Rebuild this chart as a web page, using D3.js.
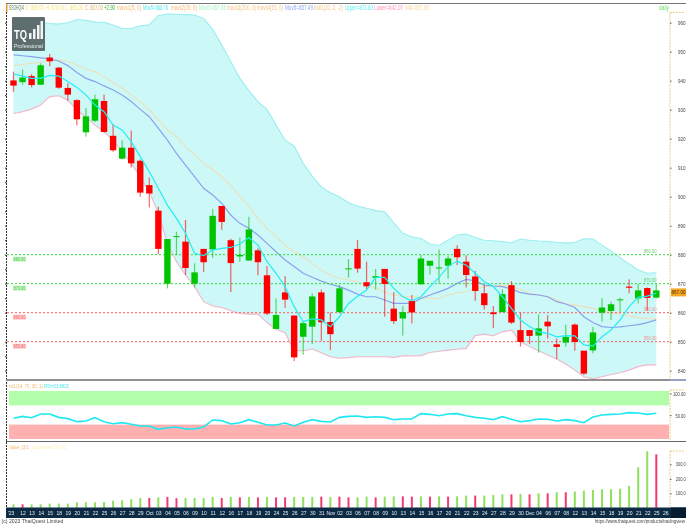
<!DOCTYPE html>
<html>
<head>
<meta charset="utf-8">
<script src="https://cdn.jsdelivr.net/npm/d3@7"></script>
<style>
  html, body { margin: 0; padding: 0; background: #fff; overflow: hidden; }
  svg { display: block; filter: blur(0.45px); font-family: "Liberation Sans", sans-serif; }
</style>
</head>
<body>
<div id="chart"></div>
<script>
// values, one entry per trading day
const dateLabels = ["'23","12","13","14","15","18","19","20","21","22","25","26","27","28","29","Oct","03","04","05","06","09","10","11","12","16","17","18","19","20","24","25","26","27","30","31","Nov","02","03","06","07","08","09","10","13","14","15","16","17","20","21","22","23","24","27","28","29","30","Dec","04","06","07","08","12","13","14","15","18","19","20","21","22","25","26"];

const opens = [940.1,939.5,941.6,938.6,948,944.5,937.5,933.3,922.2,926.2,933,921,913.1,916.9,912.4,904,895.2,870,886.1,884.5,870,882,881.8,896.8,885,879.4,878,881.5,872.9,854.4,867,859,851.7,855.2,867,856.8,860.2,875.1,882,870.5,872,875.1,861.4,858,864.1,869.8,876.2,875.3,876.2,882,877.6,872.5,866.7,860.1,860.2,869.5,854,854,852.1,856.9,849.1,849.7,855.9,846.9,847,860,860.6,864.3,869,864.9,868.5,865.2];
const closes = [938.3,941.1,938.5,945.3,946.7,937.6,935.2,926.7,927.7,933.6,922.3,916,916.9,911.5,901.4,901.1,882,885.4,886.4,875.4,873.9,877.4,893.4,891.3,877.1,879.9,888.7,877.4,859.7,859.2,864.5,844.6,856.4,865.6,856.7,852.6,868.4,875.3,875.2,869.1,872.6,869.9,857.1,860.2,860.1,878.7,877.9,875.6,878.7,879.1,873,867.5,862.6,859.5,866.4,856.6,849.9,852,854.6,855.3,848.2,851.7,849.9,839,853.2,861.8,862.9,864.6,868.6,867.7,865.1,867.7];
const highs = [943.1,943.9,942.3,946,949.2,944.8,939.1,933.6,930.6,935.2,935.2,925,919.5,922.8,912.8,906.6,896.6,885.4,887.9,892,877,882,895.7,896.8,885.5,885.9,893.1,882.2,876.1,864.9,872.6,859.2,857.2,866.7,868,860,869.5,878.5,885.1,877.6,875.1,875.1,867.1,862.3,866.1,879.9,877.9,881.8,879.7,883.3,879.8,874.4,869.5,862.3,868,870.9,860,854,859.5,859.1,851.1,855.9,856.3,846.9,855.1,865,863.8,865.2,871.5,869.9,868.7,869.9];
const lows = [936.2,938.6,937.7,938.6,945,937.2,933.1,924.6,920.7,925.7,922.1,915.5,912.9,910.1,900,896.3,880.2,868.4,879.9,873,868.7,874.1,878.9,888.6,867.1,877.6,877.8,872.9,859.2,854.3,861.7,843.3,845.5,849.2,850.3,847.1,859.8,872.1,873.8,868,868,858.6,856.1,852.1,856.3,869.7,873.1,870.1,871.7,876.4,868.7,864.1,861.1,854.7,860.2,856.1,848.3,849.2,846.2,851.1,844,848.3,846.9,838.5,846,856.9,857.5,860.3,866.7,863.2,860.7,864.9];

const ma5 = [942.3,941.6,940.8,940.8,941.8,941.6,939.7,937.7,935.1,931.6,929.3,924.7,923,919,913.8,908.6,902.9,897.1,892.5,887.4,880.5,879.7,881.6,882.2,882.5,883.7,885.9,883.3,877.6,873.6,869,862.1,856.9,857.9,857.5,855.2,858.6,863.2,865.7,867.8,872.2,872.2,868.4,865.5,864.1,865.5,869,872.2,875.9,877.8,876.4,873.6,870.7,869,865.5,861.5,857.5,855.2,853.4,852.9,851.7,852.1,852,848.9,848.5,851.7,854,857.5,862.1,865.3,865.7,866.7];
const ma15 = [948.9,948.6,948.3,947.9,947.5,946.8,945.2,942.8,940.8,939.7,938.2,936.8,935.1,932.8,930.1,927.6,923.6,919.5,914.9,910.9,906.9,902.9,900.6,897.7,893.7,890.8,889.1,886.8,883.9,881,878.2,875.9,873.6,872.2,870.9,869.8,869,867.8,866.4,865.5,865.5,864.4,863.2,863.2,863.2,864.9,866.1,867.2,868.4,870.1,871.5,871,869.5,869.2,869,868.2,866.9,866.4,866.1,865.5,863.8,863,861.8,858.6,856.6,855.2,854.9,855.1,855.5,855.9,856.6,857.5];
const ma20 = [945.2,945.6,946,946.3,946.9,947.1,946.6,945.4,944,943.1,941.4,939.3,937.4,935.1,932.8,929.9,926.4,923,920.7,917.2,914.4,911.5,909.2,906.9,904,900,896.6,892.5,889.1,886.2,883.3,881,879.3,877,874.7,873,871.8,871.3,870.7,869.5,868.4,867.2,866.1,865.7,865.5,865.3,864.9,864.9,866.1,866.9,867.2,868.2,869,869.2,869.5,869,868,866.7,866.1,865.7,864.4,863.2,862.6,862.1,861.5,860.7,860.1,859.5,858.9,858.4,858,857.8];
const bollUpper = [960.5,960.3,960.2,960.1,959.7,959.5,960,961.1,960.8,960.2,960.1,959.2,958,958,958.9,959.3,962.5,963,962.9,962.8,962.6,961.5,957.7,952.3,946.6,940.8,936.6,932.8,930.1,924.7,919.5,917.5,911.5,907.1,903.4,901.4,900,897.9,896.8,896,895.2,894.8,891,887.4,886.2,885.6,883.7,883.2,885,886.8,887.1,885.9,885,884.8,884.5,884.1,885.4,885,884.7,884.5,884.3,884,884.3,885.5,885.4,883.3,881.3,879,876.8,874.7,873.6,873.8];
const bollLower = [928.7,929.3,930.2,931.6,934.5,934.8,933.3,929.9,927.4,924.7,922.4,919.5,915.5,911.5,906.9,901.7,894.3,883.9,877.6,873,869,863.8,862.3,861.8,860.7,859.7,859.5,859.5,856.6,854.3,853.1,846.9,846.9,847.5,846.2,844.8,844.3,844.5,844.8,844.8,844.8,844.8,844.6,845.1,845.1,845.2,846.3,846.7,847.1,847.4,847.7,852.1,852.6,852,853.4,854,850,848.3,846.9,845.4,844,842.3,840.2,837.9,837.2,837.9,838.7,839.3,840.2,841.4,842,842];

const rsi = [43.1,47.2,44.4,52.1,52.1,45.1,42.4,36.1,37.5,44.4,36.1,31.9,34,30.6,27.1,27.1,20.1,23.6,25,20.8,20.8,25,39.6,38.2,31.3,34,40.3,34.7,29.2,29.2,33.3,27.1,34.7,40.3,36.8,35.4,45.1,47.2,47.9,45.1,46.5,45.1,40.3,41.7,41.7,52.8,51.4,48.6,52.1,52.8,48.6,45.1,43.1,40.3,46.5,41,36.1,38.2,41.7,41,37.5,40.3,38.2,34,45.8,50,51.4,52.1,54.9,54.2,51.4,53.5];
const volumes = [24,24,24,24,29,29,29,38,38,38,40,49,52,59,68,68,72,75,66,68,68,68,75,68,75,72,75,72,75,72,72,75,75,75,77,75,77,72,72,77,72,77,79,79,77,79,77,79,77,79,84,84,84,89,93,93,95,93,100,100,107,107,112,118,123,128,128,132,151,279,390,369];
const volumeDownDays = [1,15,17,18,23,25,27,29,30,34,36,37,40,43,44,46,48,51,55,57,59,61,71];

const priceTicks = [960,950,940,930,920,910,900,890,880,870,860,850,840];
const rsiTicks = [100,50];
const volumeTicks = [300,200,100];
const levels = [880,870,860,850];
const lastPrice = 867;

const legendParts = [
    ['SSOHQ/4', '#5d7a5d', 9, 15], ['O: 865.00', '#f4e27a', 25, 19], ['H: 870.00', '#f4e27a', 46, 18],
    ['L: 865.00', '#f4e27a', 65, 18], ['C: 867.00', '#e0b070', 85, 18], ['+2.90', '#2fae2f', 104, 11],
    ['movs1(5, 0)', '#f5b66a', 117, 24], ['Mov5=866.76', '#4fe6f0', 143, 25], ['movs2(20, 0)', '#f5b66a', 171, 26],
    ['Mov5=857.85', '#a8f0c8', 199, 27], ['movs3(200, 0)', '#f5c080', 227, 29], ['movs4(15, 0)', '#f5c080', 257, 26],
    ['Mov5=857.49', '#8fa6f0', 285, 28], ['boll1(20, 2, -2)', '#f5c080', 314, 29], ['Upper=873.60', '#60eef0', 345, 28],
    ['Lower=842.07', '#ff90b0', 374, 29], ['Mid=857.85', '#f8d8a0', 405, 24], ['daily', '#66dd66', 659, 10]
];

const width = 686;
const height = 524;
const plotRight = 670;

const svg = d3.select('#chart').append('svg').attr('width', width).attr('height', height).attr('viewBox', [0, 0, width, height]);

const x = d3.scaleLinear().domain([0, 71]).range([13.5, 656.3]);
const y = d3.scaleLinear().domain([840, 960]).range([370.7, 22.7]);
const yRsi = d3.scaleLinear().domain([0, 100]).range([439, 391]);
const yVol = d3.scaleLinear().domain([0, 300]).range([507.8, 464.3]);

// the reference text is very condensed, so squeeze each label to its measured width
const label = (g, text, px, py, size, color, len) => {
    const t = g.append('text').attr('font-size', size).attr('fill', color).text(text);
    const natural = t.node().getComputedTextLength();
    t.attr('transform', `translate(${px},${py}) scale(${len ? len / natural : 1},1)`);
    return t;
};

// bollinger band
const days = d3.range(opens.length);
svg.append('path')
    .attr('fill', '#ccf8f8')
    .attr('d', d3.area().x((d) => x(d)).y0((d) => y(bollLower[d])).y1((d) => y(bollUpper[d]))(days));

const drawLine = (values, yScale, color, w) =>
    svg.append('path')
        .attr('fill', 'none')
        .attr('stroke', color)
        .attr('stroke-width', w)
        .attr('d', d3.line().x((_, i) => x(i)).y((d) => yScale(d))(values));

drawLine(bollUpper, y, '#9ceef0', 1.1);
drawLine(bollLower, y, '#f2b6ca', 1.1);
drawLine(ma20, y, '#efdfb8', 1.1);
drawLine(ma15, y, '#8aa2ee', 1.2);

// support / resistance levels
levels.forEach((level) => {
    const color = level >= 870 ? '#2fdc2f' : '#ff5c5c';
    svg.append('line')
        .attr('x1', 7).attr('x2', plotRight).attr('y1', y(level)).attr('y2', y(level))
        .attr('stroke', color).attr('stroke-dasharray', '2 2');
    const boxFill = level >= 870 ? '#c4f5c0' : '#ffc8c8';
    svg.append('rect').attr('x', 13).attr('y', y(level) + 2).attr('width', 13).attr('height', 5).attr('fill', boxFill);
    label(svg, `${level}.00`, 13.5, y(level) + 6.5, 5.5, level >= 870 ? '#55c855' : '#ee7070', 12);
    label(svg, `${level}.00`, 644, y(level) - 2, 5.5, level >= 870 ? '#66cc66' : '#ee9090', 12.5);
});

// candles
const candles = svg.append('g').selectAll('g').data(days).join('g')
    .attr('fill', (d) => (closes[d] >= opens[d] ? '#00c400' : '#ff0000'))
    .attr('stroke', 'none');
candles.append('rect')
    .attr('x', (d) => x(d) - 0.6).attr('width', 1.2)
    .attr('y', (d) => y(highs[d]))
    .attr('height', (d) => y(lows[d]) - y(highs[d]))
    .attr('opacity', 0.6);
candles.append('rect')
    .attr('x', (d) => x(d) - 3.2).attr('width', 6.4)
    .attr('y', (d) => y(Math.max(opens[d], closes[d])))
    .attr('height', (d) => Math.max(1, Math.abs(y(opens[d]) - y(closes[d]))));

drawLine(ma5, y, '#22eef2', 1.2);

// left price ruler and right axes
const leftAxis = svg.append('g').attr('transform', 'translate(6.5,0)')
    .call(d3.axisLeft(y).tickValues(d3.range(840, 965, 5)).tickSize(1.5).tickFormat(''));
leftAxis.select('.domain').attr('d', 'M0,12V379').attr('stroke', '#333').attr('stroke-dasharray', '2 1');
leftAxis.selectAll('line').attr('stroke', '#333');

const styleRightAxis = (g, top, bottom) => {
    g.select('.domain').attr('d', `M0,${top}H15M0,${top}V${bottom}`).attr('stroke', '#e6cf86').attr('stroke-dasharray', '2 1');
    g.selectAll('line').attr('stroke', '#555');
};

svg.append('g').attr('transform', `translate(${plotRight},0)`)
    .call(d3.axisRight(y).tickValues(priceTicks).tickSize(1.5).tickFormat(''))
    .call(styleRightAxis, 12.5, 379);
priceTicks.forEach((d) => label(svg, `${d}`, 678, y(d) + 2, 6, '#444', 7.5));

// last price tag
svg.append('rect').attr('x', 671).attr('y', y(lastPrice) - 4).attr('width', 15).attr('height', 8).attr('fill', '#f5a623');
label(svg, lastPrice.toFixed(2), 671.5, y(lastPrice) + 2, 6, '#4a3000', 14);

// pane separators
svg.append('line').attr('x1', 6).attr('x2', width).attr('y1', 3.5).attr('y2', 3.5).attr('stroke', '#777').attr('stroke-width', 1);
svg.append('rect').attr('x', 6).attr('y', 4).attr('width', 1.5).attr('height', 8).attr('fill', '#f59a23');
svg.append('line').attr('x1', 6).attr('x2', plotRight).attr('y1', 380).attr('y2', 380).attr('stroke', '#222');
svg.append('line').attr('x1', plotRight).attr('x2', width).attr('y1', 380).attr('y2', 380).attr('stroke', '#334488');
svg.append('line').attr('x1', 6).attr('x2', width).attr('y1', 441.5).attr('y2', 441.5).attr('stroke', '#666').attr('stroke-width', 1.2);

// rsi pane
svg.append('rect').attr('x', 9).attr('width', plotRight - 10).attr('y', yRsi(100)).attr('height', yRsi(70) - yRsi(100)).attr('fill', '#b2fdaa');
svg.append('rect').attr('x', 9).attr('width', plotRight - 10).attr('y', yRsi(30)).attr('height', yRsi(0) - yRsi(30)).attr('fill', '#ffb0b0');
drawLine(rsi, yRsi, '#1ee8f2', 1.6);

const rsiAxis = svg.append('g').attr('transform', `translate(${plotRight},0)`)
    .call(d3.axisRight(yRsi).tickValues(rsiTicks).tickSize(1.5).tickFormat(''))
    .call(styleRightAxis, 390, 440);
rsiAxis.selectAll('.tick').attr('transform', (d) => `translate(0,${d === 100 ? 394 : 415.7})`);
label(svg, '100.00', 673, 396, 6, '#444', 12.5);
label(svg, '50.00', 675.5, 417.7, 6, '#444', 10);

const leftPanes = svg.append('g').attr('transform', 'translate(6.5,0)');
leftPanes.append('path').attr('d', 'M0,382V441M0,442V507').attr('stroke', '#333').attr('stroke-dasharray', '2 1').attr('fill', 'none');

label(svg, 'rsi1(14, 70, 30, 1)', 9, 388, 6, '#f5b66a', 34);
label(svg, 'RSI=53.8802', 44, 388, 6, '#4fe6f0', 25);

// volume pane
svg.append('g').selectAll('rect').data(days).join('rect')
    .attr('x', (d) => x(d) - 1).attr('width', 2)
    .attr('y', (d) => yVol(volumes[d]))
    .attr('height', (d) => yVol(0) - yVol(volumes[d]))
    .attr('fill', (d) => (volumeDownDays.includes(d) ? '#f23a72' : '#8fe05f'));

svg.append('g').attr('transform', `translate(${plotRight},0)`)
    .call(d3.axisRight(yVol).tickValues(volumeTicks).tickSize(1.5).tickFormat(''))
    .call(styleRightAxis, 451, 507);
volumeTicks.forEach((d) => label(svg, `${d},0`, 675.7, yVol(d) + 2, 6, '#444', 10));

label(svg, 'Value_Q/1', 9, 448.5, 6, '#f5b66a', 20);
label(svg, 'Lgamma=171.42', 32, 448.5, 6, '#fbf0b0', 34);

// date axis
svg.append('rect').attr('x', 6).attr('y', 507.5).attr('width', width - 6).attr('height', 10.5).attr('fill', '#0d2b45');
svg.append('rect').attr('x', plotRight + 1).attr('y', 507.5).attr('width', width - plotRight).attr('height', 10.5).attr('fill', '#061c30');
const dateAxis = svg.append('g').attr('transform', 'translate(0,507.5)')
    .call(d3.axisBottom(x).tickValues(d3.range(dateLabels.length)).tickSize(0).tickFormat((d) => dateLabels[d]));
dateAxis.select('.domain').remove();
dateAxis.selectAll('text')
    .attr('y', 3.5).attr('font-size', 5).attr('fill', '#e8eef4')
    .attr('font-family', '"Liberation Sans", sans-serif')
    .attr('dx', (d) => (d === 0 ? -3 : 0));

// header legend
const header = svg.append('g');
legendParts.forEach(([text, color, px, len]) => label(header, text, px, 10, 6.5, color, len));

// logo
const logo = svg.append('g');
logo.append('rect').attr('x', 12).attr('y', 17).attr('width', 33).attr('height', 34).attr('rx', 1).attr('fill', '#5e6e6e');
label(logo, 'TQ', 14, 39, 12.5, '#ffffff', 13).attr('font-weight', 'bold');
[[29, 33, 2.5, 6], [33, 29, 2.5, 10], [37, 25, 2.5, 14], [40.5, 21, 2.5, 18]].forEach(([lx, ly, w, h]) =>
    logo.append('rect').attr('x', lx).attr('y', ly).attr('width', w).attr('height', h).attr('fill', '#f2f5f5'));
label(logo, 'Professional', 14, 48, 5.5, '#e8eeee', 29);

// footer
label(svg, '(c) 2023 ThaiQuest Limited', 1.5, 523, 5.8, '#444', 62);
label(svg, 'https://www.thaiquest.com/products/tradingview', 595, 523, 5.8, '#444', 90);
</script>
</body>
</html>
